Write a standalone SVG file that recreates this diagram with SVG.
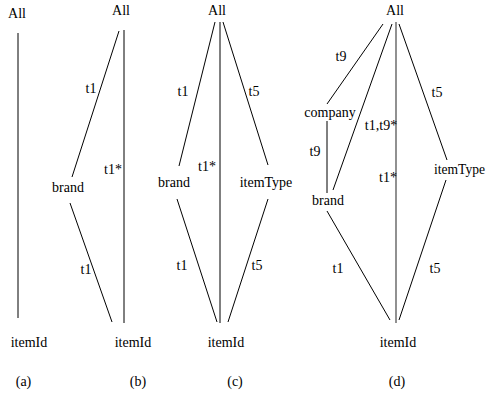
<svg xmlns="http://www.w3.org/2000/svg" width="486" height="395" viewBox="0 0 486 395" font-family="'Liberation Serif', 'Times New Roman', Times, serif">
<style>
text{font-family:'Liberation Serif','Times New Roman',Times,serif;font-size:14px;fill:#000;text-anchor:middle}
.l{stroke:#000;stroke-width:1;fill:none}
.g{stroke:#555;stroke-width:1.3;fill:none}
</style>
<rect width="486" height="395" fill="#fff"/>
<g id="connectors">
<line class="l" x1="18" y1="33" x2="18" y2="318"/>
<line class="l" x1="119" y1="31" x2="72" y2="177"/>
<line class="l" x1="70" y1="203" x2="112" y2="322"/>
<line class="l" x1="124" y1="30" x2="124" y2="323"/>
<line class="l" x1="215" y1="22" x2="179" y2="166"/>
<line class="l" x1="220" y1="22" x2="220" y2="323"/>
<line class="l" x1="223" y1="22" x2="268" y2="165"/>
<line class="l" x1="177" y1="199" x2="217" y2="322"/>
<line class="l" x1="268" y1="199" x2="228" y2="322"/>
<line class="l" x1="383" y1="24" x2="327" y2="104"/>
<line class="l" x1="327" y1="121" x2="327" y2="193"/>
<line class="l" x1="392" y1="24" x2="333" y2="190"/>
<line class="g" x1="396" y1="22" x2="396" y2="323"/>
<line class="l" x1="399" y1="24" x2="447" y2="160"/>
<line class="l" x1="327" y1="211" x2="390" y2="320"/>
<line class="l" x1="446" y1="180" x2="399" y2="320"/>
</g>
<g id="edge-labels">
<text x="91" y="93">t1</text>
<text x="86" y="274">t1</text>
<text x="113" y="174">t1*</text>
<text x="183" y="96">t1</text>
<text x="254" y="96">t5</text>
<text x="207" y="171">t1*</text>
<text x="182" y="270">t1</text>
<text x="257" y="270">t5</text>
<text x="341" y="61">t9</text>
<text x="315" y="156">t9</text>
<text x="381" y="130">t1,t9*</text>
<text x="388" y="182">t1*</text>
<text x="437" y="97">t5</text>
<text x="338" y="273">t1</text>
<text x="435" y="273">t5</text>
</g>
<g id="a-all"><text x="17" y="18">All</text></g>
<g id="a-itemId"><text x="29" y="347">itemId</text></g>
<g id="b-all"><text x="121" y="15">All</text></g>
<g id="b-brand"><text x="68" y="192">brand</text></g>
<g id="b-itemId"><text x="133" y="347">itemId</text></g>
<g id="c-all"><text x="217" y="15">All</text></g>
<g id="c-brand"><text x="174" y="187">brand</text></g>
<g id="c-itemType"><text x="266" y="187">itemType</text></g>
<g id="c-itemId"><text x="226" y="347">itemId</text></g>
<g id="d-all"><text x="395" y="15">All</text></g>
<g id="d-company"><text x="330" y="117">company</text></g>
<g id="d-brand"><text x="328" y="205">brand</text></g>
<g id="d-itemType"><text x="434" y="174" style="text-anchor:start" textLength="51" lengthAdjust="spacingAndGlyphs">itemType</text></g>
<g id="d-itemId"><text x="398" y="347">itemId</text></g>
<g id="captions">
<text x="23.5" y="386">(a)</text>
<text x="138" y="386">(b)</text>
<text x="235" y="386">(c)</text>
<text x="397" y="386">(d)</text>
</g>
</svg>
